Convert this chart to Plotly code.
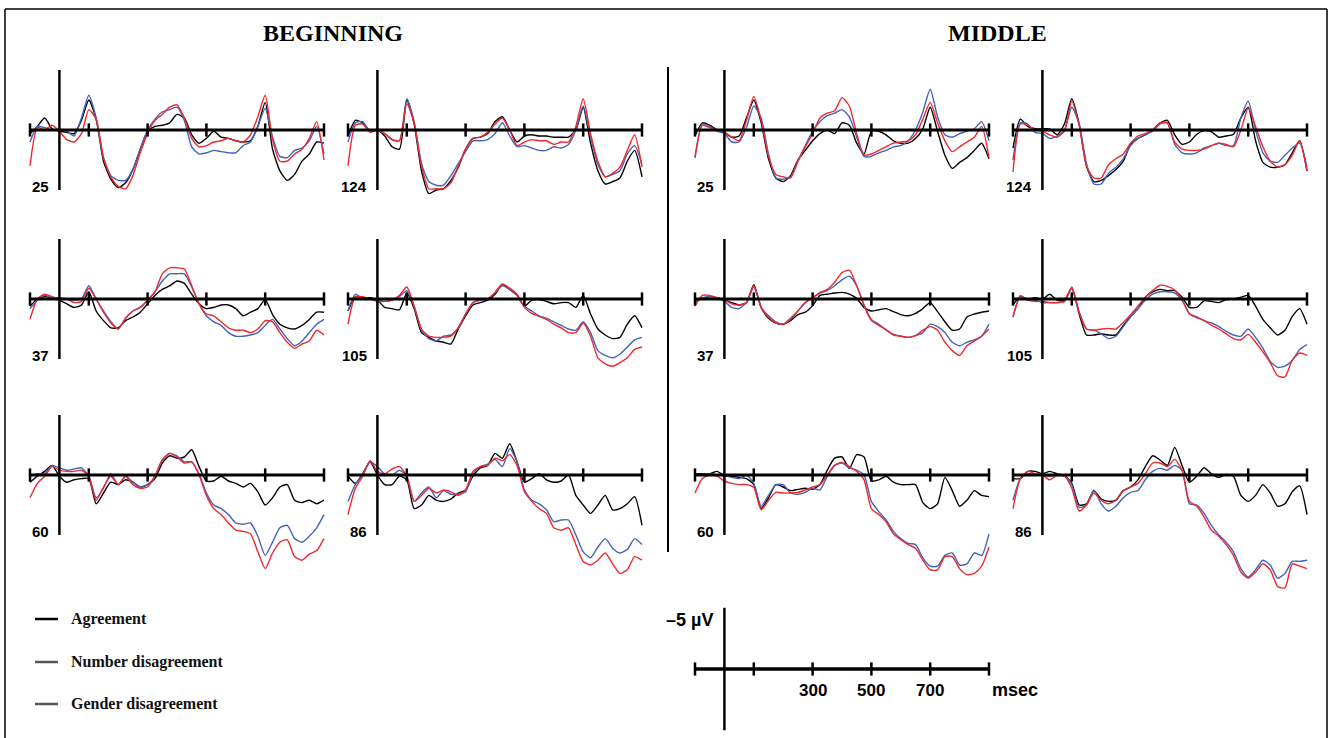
import plotly.graph_objects as go

# ---------------- data ----------------
TIME_MS = [-100, -75, -50, -25, 0, 25, 50, 75, 100, 125, 150, 175, 200, 225, 250, 275,
           300, 325, 350, 375, 400, 425, 450, 475, 500, 525, 550, 575, 600, 625, 650,
           675, 700, 725, 750, 775, 800, 825, 850, 875, 900]
TICK_MS = [-100, 100, 300, 500, 700, 900]
SCALE_LABEL_MS = [300, 500, 700]
SECTIONS = ["BEGINNING", "MIDDLE"]
ELECTRODES = ["25", "124", "37", "105", "60", "86"]
CONDITIONS = ["Agreement", "Number disagreement", "Gender disagreement"]

# values in microvolts (negative plotted upwards)
B25_AGR = [0.3, -0.3, -1.0, -0.1, 0.1, 0.2, 0.3, -0.8, -2.5, -0.9, 2.6, 4.1, 4.8, 4.4, 3.3, 1.6, 0.1, -0.3, -0.4, -0.6, -1.3, -1.0, 0.4, 1.1, 0.7, 0.1, 0.6, 0.7, 0.9, 1.0, 0.9, -0.3, -2.3, 1.6, 3.4, 4.2, 3.7, 2.6, 2.0, 1.0, 1.1]
B25_NUM = [1.0, -0.3, -0.2, 0.0, 0.0, 0.1, 0.5, -1.0, -2.9, -1.0, 2.3, 3.8, 4.2, 4.2, 3.3, 1.6, 0.0, -0.9, -1.5, -1.7, -1.9, -0.8, 1.4, 2.0, 1.9, 1.7, 1.8, 1.9, 1.9, 1.3, 1.0, -0.3, -1.8, 0.6, 2.2, 2.3, 1.7, 1.5, 0.9, -0.3, 2.0]
B25_GEN = [3.0, -0.2, 0.0, -0.4, 0.1, 0.8, 1.0, 0.3, -1.7, -0.9, 2.3, 3.9, 4.7, 4.9, 3.8, 1.9, 0.3, -0.8, -1.3, -1.9, -2.1, -1.0, 0.7, 1.4, 1.3, 1.0, 0.9, 0.7, 0.9, 1.0, 0.4, -1.1, -2.9, 0.8, 2.6, 2.6, 2.0, 1.6, 0.7, -0.7, 2.5]

B124_AGR = [0.5, -0.8, -0.6, 0.1, 0.0, 0.5, 1.4, 1.6, -2.5, -0.5, 3.4, 5.3, 5.0, 4.9, 4.2, 3.1, 1.6, 0.7, 0.6, 0.3, -0.7, -1.1, 0.0, 1.0, 0.5, 0.4, 0.5, 0.5, 0.6, 0.6, 0.6, 0.0, -1.9, 1.1, 3.4, 4.5, 4.3, 4.0, 2.6, 1.7, 3.9]
B124_NUM = [1.0, -0.6, -0.7, 0.1, 0.0, 0.3, 0.8, 0.9, -2.6, -0.7, 2.8, 4.3, 4.6, 4.6, 3.8, 2.8, 1.8, 0.9, 0.9, 0.8, 0.3, -0.6, 0.5, 1.4, 1.3, 1.5, 1.7, 1.7, 1.4, 1.5, 1.2, 0.0, -2.0, 0.6, 2.9, 3.9, 3.7, 3.4, 2.0, 1.3, 2.9]
B124_GEN = [3.0, -0.4, -0.5, 0.2, 0.0, 0.3, 0.8, 0.9, -2.2, -0.6, 3.0, 4.9, 4.9, 4.9, 4.4, 3.0, 1.6, 0.7, 0.6, 0.2, -0.5, -1.0, 0.0, 1.3, 1.0, 0.8, 0.9, 0.9, 1.2, 1.0, 1.0, -0.3, -2.6, 0.3, 2.6, 3.9, 3.6, 3.1, 1.7, 0.4, 3.1]

B37_AGR = [0.6, 0.0, -0.2, -0.1, 0.1, 0.4, 0.7, 0.5, -0.6, 1.0, 1.8, 2.4, 2.4, 1.8, 1.5, 1.1, 0.4, -0.3, -0.8, -1.1, -1.5, -1.3, -0.4, 0.4, 0.8, 0.7, 0.5, 0.5, 0.8, 1.4, 1.1, 0.8, 0.05, 1.3, 2.1, 2.4, 2.5, 2.2, 1.7, 1.1, 1.1]
B37_NUM = [0.8, 0.1, -0.3, -0.1, -0.1, 0.0, 0.1, 0.0, -1.1, 0.0, 1.0, 1.9, 2.5, 1.6, 1.0, 0.7, 0.1, -0.6, -1.5, -2.1, -2.1, -2.1, -1.0, 0.4, 1.4, 1.9, 2.2, 2.8, 3.1, 3.1, 3.0, 2.8, 2.2, 1.7, 2.5, 3.3, 3.9, 3.5, 2.8, 2.1, 1.7]
B37_GEN = [1.7, 0.0, -0.4, -0.2, 0.0, 0.0, 0.3, 0.2, -0.9, 0.0, 1.1, 2.0, 2.5, 1.6, 1.0, 0.7, 0.1, -0.6, -2.1, -2.6, -2.6, -2.5, -1.1, 0.4, 1.25, 1.4, 1.9, 2.4, 2.6, 2.6, 2.8, 2.5, 1.8, 1.9, 2.8, 3.6, 4.1, 3.75, 3.5, 2.6, 3.0]

B105_AGR = [1.0, -0.2, -0.1, -0.1, 0.1, 0.7, 0.8, 0.9, -0.5, 0.8, 2.8, 3.2, 3.5, 3.6, 3.75, 2.5, 1.4, 0.5, 0.3, 0.1, -0.4, -1.2, -0.8, -0.3, 0.6, 0.1, 0.05, 0.2, 0.4, 0.3, 0.3, 0.7, -0.3, 1.25, 2.5, 3.0, 3.3, 3.2, 2.1, 1.4, 2.4]
B105_NUM = [1.0, -0.4, 0.0, 0.0, 0.1, 0.2, 0.1, -0.2, -0.7, 0.6, 2.6, 3.3, 3.5, 3.1, 3.0, 2.4, 1.25, 0.3, 0.1, 0.0, -0.5, -1.1, -0.8, -0.3, 0.6, 1.0, 1.4, 1.6, 1.9, 2.2, 2.5, 2.6, 1.9, 2.8, 4.3, 4.7, 4.9, 4.6, 4.0, 3.4, 3.2]
B105_GEN = [2.1, -0.2, -0.2, 0.0, 0.2, 0.2, 0.1, -0.3, -1.0, 0.6, 2.5, 3.1, 3.2, 3.2, 3.1, 2.4, 1.25, 0.3, 0.05, 0.0, -0.55, -1.25, -0.9, -0.4, 0.7, 1.2, 1.45, 1.7, 2.1, 2.4, 2.8, 2.8, 2.0, 3.1, 4.9, 5.4, 5.6, 5.3, 4.9, 4.2, 4.0]

B60_AGR = [0.6, 0.1, -0.3, -0.8, 0.1, 0.6, 0.4, 0.3, 0.3, 2.4, 1.5, 0.6, 0.8, 0.4, 0.6, 1.0, 0.8, 0.3, -1.0, -1.6, -1.4, -1.5, -2.1, -0.7, 0.5, 0.5, 0.1, 0.5, 0.7, 1.0, 0.7, 1.4, 2.5, 1.9, 1.0, 0.8, 2.1, 2.3, 2.1, 2.4, 2.1]
B60_NUM = [0.1, -0.1, -0.1, -0.8, -0.6, -0.4, -0.5, -0.6, 0.1, 1.9, 1.1, -0.1, 0.8, 0.1, 0.6, 1.0, 0.8, 0.1, -1.25, -1.8, -1.6, -1.1, -1.1, -0.1, 1.5, 2.5, 2.8, 3.3, 4.0, 4.1, 4.0, 5.1, 6.7, 5.6, 4.4, 4.2, 5.3, 5.6, 5.1, 4.4, 3.3]
B60_GEN = [1.9, 0.7, 0.1, -0.7, -0.4, -0.3, -0.3, -0.4, 0.1, 2.1, 1.0, 0.1, 0.8, 0.1, 0.8, 1.1, 1.0, 0.1, -1.25, -1.8, -1.5, -1.0, -1.1, 0.0, 1.7, 2.8, 3.3, 4.0, 4.6, 4.7, 4.9, 6.4, 7.8, 6.5, 5.6, 5.4, 6.8, 7.1, 6.6, 6.3, 5.3]

B86_AGR = [0.1, 0.7, -0.1, -1.1, 0.0, 0.8, 0.8, 0.1, 0.4, 2.8, 2.5, 1.7, 2.1, 2.2, 2.0, 1.5, 1.25, 0.1, -0.6, -0.8, -1.8, -1.4, -2.6, -1.1, 0.6, 0.3, -0.1, 0.4, 0.6, 0.5, 0.0, 1.7, 2.5, 3.2, 2.5, 1.7, 2.9, 2.8, 2.4, 1.8, 4.2]
B86_NUM = [2.2, 0.8, 0.0, -1.1, -0.7, -0.1, 0.0, -0.4, 0.1, 2.2, 1.5, 1.0, 1.9, 1.3, 1.6, 1.6, 1.4, -0.1, -0.7, -0.9, -1.3, -0.7, -2.2, -1.1, 1.25, 2.1, 2.4, 2.9, 3.9, 3.75, 3.75, 5.0, 6.4, 6.9, 6.0, 5.3, 6.1, 6.5, 6.2, 5.3, 5.8]
B86_GEN = [3.3, 1.1, 0.1, -1.2, -0.3, -0.1, -0.5, -0.7, 0.1, 2.2, 1.7, 1.1, 1.5, 1.25, 1.4, 1.7, 1.25, -0.3, -0.7, -0.8, -1.4, -1.2, -1.7, -0.8, 1.4, 2.2, 2.8, 3.2, 4.4, 4.6, 4.4, 5.8, 7.2, 7.5, 7.1, 6.5, 7.4, 8.2, 7.9, 6.8, 7.1]

M25_AGR = [0.5, -0.6, -0.4, 0.0, 0.2, 0.6, 0.5, -1.0, -2.5, -0.6, 2.4, 4.0, 4.3, 3.8, 2.5, 1.7, 0.9, 0.3, 0.0, 0.3, -0.6, -0.4, 1.1, 2.0, 0.1, 0.1, 0.4, 0.9, 1.1, 1.1, 0.7, -0.1, -1.9, 0.1, 2.1, 3.2, 2.7, 2.3, 1.7, 1.1, 2.4]
M25_NUM = [2.3, -0.5, -0.3, 0.1, 0.3, 1.0, 1.0, -0.2, -2.0, -1.0, 2.0, 4.0, 4.1, 3.9, 2.6, 1.3, 0.1, -0.7, -1.2, -1.4, -1.7, -1.1, 0.6, 2.2, 2.2, 1.9, 1.7, 1.4, 1.3, 0.9, 0.0, -1.5, -3.4, -1.1, 0.4, 0.6, 0.3, 0.1, -0.1, -0.7, 0.9]
M25_GEN = [2.3, -0.4, -0.2, 0.0, 0.2, 0.6, 0.9, -0.8, -2.8, -0.8, 2.2, 3.7, 3.9, 4.0, 2.6, 1.4, 0.3, -1.0, -1.4, -1.6, -2.7, -2.0, 0.3, 2.1, 2.0, 1.7, 1.4, 1.1, 1.0, 0.9, 0.4, -0.9, -2.3, -0.6, 0.9, 1.8, 1.4, 1.0, 0.6, -0.3, 2.3]

M124_AGR = [1.5, -0.9, -0.3, -0.1, -0.1, -0.1, 0.4, -0.5, -2.6, -0.5, 3.0, 4.3, 4.2, 3.8, 3.3, 2.6, 1.2, 0.7, 0.4, 0.0, -0.6, -0.8, 0.4, 1.2, 1.0, 0.35, 0.05, 0.15, 0.6, 0.5, 0.35, -1.0, -1.9, 0.9, 2.7, 3.1, 3.1, 2.9, 1.9, 0.9, 3.4]
M124_NUM = [2.5, -0.6, -0.5, 0.2, 0.3, 0.7, 0.5, 0.0, -1.9, -0.5, 2.8, 4.5, 4.5, 3.6, 3.1, 2.4, 1.3, 0.7, 0.4, 0.1, -0.5, -0.6, 1.2, 1.9, 2.0, 1.9, 1.5, 1.3, 1.1, 1.3, 1.3, -1.0, -2.4, 0.0, 1.9, 2.6, 2.7, 2.1, 1.5, 1.1, 3.1]
M124_GEN = [3.5, -0.5, -0.4, 0.0, 0.1, 0.4, 0.6, 0.1, -2.4, -0.4, 3.0, 4.0, 4.0, 2.9, 2.4, 2.0, 1.1, 0.5, 0.3, 0.0, -0.6, -0.6, 1.0, 1.6, 1.7, 1.7, 1.6, 1.3, 1.1, 1.2, 1.4, 0.0, -1.8, -0.3, 1.4, 2.6, 3.1, 2.9, 2.1, 0.9, 3.4]

M37_AGR = [0.1, 0.0, -0.2, -0.1, 0.1, 0.3, 0.5, 0.3, -1.2, 0.7, 1.6, 2.0, 2.1, 1.8, 1.3, 1.1, 0.55, -0.3, -0.4, -0.5, -0.55, -0.4, -0.05, 0.7, 1.0, 0.9, 0.8, 1.05, 1.3, 1.4, 1.2, 0.8, 0.3, 1.05, 1.9, 2.6, 2.5, 1.5, 1.25, 1.1, 1.0]
M37_NUM = [0.3, -0.1, -0.2, -0.1, 0.2, 0.7, 0.8, 0.3, -1.0, 0.7, 1.4, 1.9, 2.1, 1.6, 1.0, 0.3, -0.1, -0.5, -0.7, -1.1, -1.6, -1.9, -1.1, 0.5, 1.7, 2.1, 2.6, 2.95, 3.1, 3.2, 3.05, 2.8, 2.1, 2.3, 2.8, 3.6, 3.9, 3.6, 3.4, 3.1, 2.1]
M37_GEN = [0.6, -0.3, -0.3, -0.1, 0.1, 0.4, 0.5, 0.3, -1.1, 0.7, 1.5, 2.0, 2.1, 1.7, 1.0, 0.3, -0.1, -0.55, -0.8, -1.4, -2.2, -2.4, -1.1, 0.55, 1.8, 2.2, 2.55, 3.0, 3.1, 3.2, 3.05, 2.6, 2.3, 2.6, 3.6, 4.3, 4.7, 3.9, 3.5, 3.1, 2.5]

M105_AGR = [0.5, -0.2, 0.0, -0.1, 0.0, -0.4, 0.1, 0.1, -0.9, 1.25, 3.0, 3.0, 2.9, 3.0, 3.0, 2.2, 1.45, 0.8, -0.15, -0.6, -0.8, -0.7, -0.7, -0.15, 0.7, 0.7, 0.15, 0.2, 0.3, 0.05, 0.0, -0.15, -0.3, 0.6, 1.7, 2.4, 3.0, 2.6, 1.45, 0.8, 2.1]
M105_NUM = [1.5, -0.3, 0.1, 0.1, 0.3, 0.3, 0.3, 0.2, -0.9, 1.1, 2.5, 2.6, 2.9, 3.3, 3.1, 2.3, 1.5, 0.8, 0.1, -0.4, -0.6, -0.6, -0.5, 0.1, 1.2, 1.5, 1.8, 2.0, 2.3, 2.7, 3.0, 3.1, 2.5, 3.2, 4.1, 5.2, 5.7, 5.6, 5.1, 4.2, 3.8]
M105_GEN = [1.5, -0.2, 0.1, 0.2, 0.2, 0.3, 0.3, 0.2, -1.0, 1.1, 2.5, 2.6, 2.5, 2.45, 2.5, 1.95, 1.3, 0.6, -0.15, -0.7, -1.15, -1.05, -0.75, 0.05, 1.25, 1.55, 1.8, 2.2, 2.5, 2.9, 3.3, 3.4, 2.95, 3.6, 4.4, 5.3, 6.4, 6.5, 5.1, 4.5, 4.7]

M60_AGR = [-0.1, -0.1, -0.1, -0.3, 0.05, 0.1, 0.2, 0.3, 0.8, 2.8, 1.9, 0.8, 1.0, 1.3, 1.2, 1.1, 1.2, 0.8, -0.4, -1.4, -1.5, -0.55, -1.7, -1.5, 0.5, 0.4, 0.1, 0.6, 0.8, 0.8, 0.8, 2.3, 2.8, 2.4, 0.2, 1.3, 2.6, 2.1, 1.3, 1.7, 1.8]
M60_NUM = [-0.1, 0.0, -0.1, 0.0, 0.05, 0.2, 0.3, 0.0, 0.7, 2.6, 1.7, 0.8, 0.8, 1.5, 1.6, 1.45, 1.1, 1.25, 0.1, -0.8, -1.0, -0.6, -0.4, 0.0, 2.2, 3.05, 3.75, 4.7, 5.3, 5.7, 5.8, 6.9, 7.6, 7.6, 6.7, 6.5, 7.5, 7.4, 6.5, 6.7, 4.9]
M60_GEN = [1.5, 0.3, 0.0, 0.1, 0.5, 0.7, 0.8, 0.8, 1.05, 2.9, 2.1, 1.45, 1.5, 1.5, 1.45, 1.25, 1.0, 0.8, 0.0, -0.8, -1.05, -0.7, -0.3, 0.4, 2.8, 3.3, 3.9, 4.9, 5.4, 5.8, 6.1, 7.1, 7.9, 7.9, 6.8, 6.8, 7.8, 8.3, 8.2, 7.6, 6.0]

M86_AGR = [0.3, 0.3, -0.3, -0.3, -0.1, -0.3, -0.1, 0.05, 0.7, 2.5, 2.4, 1.3, 2.0, 2.2, 2.1, 1.3, 1.0, 0.4, -0.7, -1.6, -1.25, -0.8, -2.3, -0.8, 0.6, 0.1, -0.6, -0.1, 0.2, -0.05, 0.1, 1.7, 2.2, 1.7, 0.8, 1.5, 2.6, 2.4, 1.4, 0.9, 3.3]
M86_NUM = [2.1, 0.3, -0.1, -0.05, 0.0, 0.1, 0.0, 0.05, 0.8, 2.7, 2.5, 1.25, 2.4, 3.0, 2.6, 1.9, 1.45, 1.3, 0.4, -0.3, -0.55, -0.4, -0.8, -0.4, 2.4, 2.5, 3.2, 4.2, 5.0, 5.6, 6.4, 7.8, 8.5, 7.9, 7.1, 7.5, 8.6, 8.2, 7.2, 7.2, 7.1]
M86_GEN = [2.8, 0.3, -0.3, -0.1, 0.0, 0.4, 0.05, 0.1, 1.1, 3.0, 2.5, 1.5, 2.1, 2.4, 2.1, 1.3, 1.0, 0.7, -0.1, -1.0, -1.0, -0.7, -1.3, -0.4, 2.2, 2.6, 3.5, 4.6, 5.1, 5.8, 6.7, 8.1, 8.6, 8.1, 7.4, 7.9, 9.3, 9.4, 7.4, 7.6, 7.8]

PANELS = {
    ("BEGINNING", "25"): (B25_AGR, B25_NUM, B25_GEN),
    ("BEGINNING", "124"): (B124_AGR, B124_NUM, B124_GEN),
    ("BEGINNING", "37"): (B37_AGR, B37_NUM, B37_GEN),
    ("BEGINNING", "105"): (B105_AGR, B105_NUM, B105_GEN),
    ("BEGINNING", "60"): (B60_AGR, B60_NUM, B60_GEN),
    ("BEGINNING", "86"): (B86_AGR, B86_NUM, B86_GEN),
    ("MIDDLE", "25"): (M25_AGR, M25_NUM, M25_GEN),
    ("MIDDLE", "124"): (M124_AGR, M124_NUM, M124_GEN),
    ("MIDDLE", "37"): (M37_AGR, M37_NUM, M37_GEN),
    ("MIDDLE", "105"): (M105_AGR, M105_NUM, M105_GEN),
    ("MIDDLE", "60"): (M60_AGR, M60_NUM, M60_GEN),
    ("MIDDLE", "86"): (M86_AGR, M86_NUM, M86_GEN),
}
for k, v in PANELS.items():
    for s in v:
        assert len(s) == len(TIME_MS), (k, len(s))

# ---------------- styling / layout ----------------
W, H = 1330, 738
PX_PER_MS = 0.294
PX_PER_UV = 12.0
X_RANGE = [-110, 910]
Y_RANGE = [-6.5, 11.0]
COLORS = ["#000000", "#4463b8", "#f0282d"]
SECTION_COL_PX = {"BEGINNING": [30, 348], "MIDDLE": [695, 1013]}
ROW_ZERO_PX = [130, 299, 475]
SANS = "Liberation Sans, Arial, sans-serif"
SERIF = "Liberation Serif, Times New Roman, serif"


def xdom(left_px, xr):
    a = left_px + (xr[0] + 100) * PX_PER_MS
    b = left_px + (xr[1] + 100) * PX_PER_MS
    return [a / W, b / W]


def ydom(zero_px, yr):
    top = zero_px + yr[0] * PX_PER_UV
    bot = zero_px + yr[1] * PX_PER_UV
    return [1 - bot / H, 1 - top / H]


fig = go.Figure()
shapes = []
annotations = []
layout_axes = {}


def axis_names(i):
    xa = "x" if i == 1 else f"x{i}"
    ya = "y" if i == 1 else f"y{i}"
    xk = "xaxis" if i == 1 else f"xaxis{i}"
    yk = "yaxis" if i == 1 else f"yaxis{i}"
    return xa, ya, xk, yk


def add_axes_lines(xa, ya, vert_half):
    shapes.append(dict(type="line", xref=xa, yref=ya, x0=TICK_MS[0], x1=TICK_MS[-1], y0=0, y1=0,
                       line=dict(color="black", width=3), layer="above"))
    shapes.append(dict(type="line", xref=xa, yref=ya, x0=0, x1=0, y0=-vert_half, y1=vert_half,
                       line=dict(color="black", width=2.5), layer="above"))
    for t in TICK_MS:
        shapes.append(dict(type="line", xref=xa, yref=ya, x0=t, x1=t, y0=-0.55, y1=0.55,
                           line=dict(color="black", width=2.5), layer="above"))


idx = 0
for sec in SECTIONS:
    for e_i, el in enumerate(ELECTRODES):
        idx += 1
        row, col = divmod(e_i, 2)
        left = SECTION_COL_PX[sec][col]
        zero = ROW_ZERO_PX[row]
        xa, ya, xk, yk = axis_names(idx)
        layout_axes[xk] = dict(domain=xdom(left, X_RANGE), range=X_RANGE, visible=False,
                               fixedrange=True, anchor=ya)
        layout_axes[yk] = dict(domain=ydom(zero, Y_RANGE), range=[Y_RANGE[1], Y_RANGE[0]],
                               visible=False, fixedrange=True, anchor=xa)
        series = PANELS[(sec, el)]
        for cond, vals, colr in zip(CONDITIONS, series, COLORS):
            fig.add_trace(go.Scatter(x=TIME_MS, y=vals, mode="lines", name=cond,
                                     line=dict(color=colr, width=1.4, shape="spline", smoothing=0.6),
                                     xaxis=xa, yaxis=ya, showlegend=False, hoverinfo="skip"))
        add_axes_lines(xa, ya, 5.0)
        annotations.append(dict(text=f"<b>{el}</b>", xref=xa, yref=ya, x=-30, y=4.7,
                                xanchor="right", yanchor="middle", showarrow=False,
                                font=dict(family=SANS, size=15, color="black")))

# scale bar subplot
idx += 1
xa, ya, xk, yk = axis_names(idx)
SB_Y = [-6.0, 5.5]
layout_axes[xk] = dict(domain=xdom(695, X_RANGE), range=X_RANGE, visible=False, fixedrange=True, anchor=ya)
layout_axes[yk] = dict(domain=ydom(669, SB_Y), range=[SB_Y[1], SB_Y[0]], visible=False,
                       fixedrange=True, anchor=xa)
fig.add_trace(go.Scatter(x=[TICK_MS[0], TICK_MS[-1]], y=[0, 0], mode="lines",
                         line=dict(color="black", width=3), xaxis=xa, yaxis=ya,
                         showlegend=False, hoverinfo="skip"))
add_axes_lines(xa, ya, 5.1)
for t in SCALE_LABEL_MS:
    annotations.append(dict(text=f"<b>{t}</b>", xref=xa, yref=ya, x=t, y=1.75, xanchor="center",
                            yanchor="middle", showarrow=False, font=dict(family=SANS, size=17, color="black")))
annotations.append(dict(text="<b>msec</b>", xref=xa, yref=ya, x=903, y=1.75, xanchor="left",
                        yanchor="middle", showarrow=False, font=dict(family=SANS, size=18, color="black")))
annotations.append(dict(text="<b>\u20135 \u00b5V</b>", xref=xa, yref=ya, x=-32, y=-4.1, xanchor="right",
                        yanchor="middle", showarrow=False, font=dict(family=SANS, size=18, color="black")))

# titles
for sec, cx in zip(SECTIONS, [333, 997]):
    annotations.append(dict(text=f"<b>{sec}</b>", xref="paper", yref="paper", x=cx / W, y=1 - 33 / H,
                            xanchor="center", yanchor="middle", showarrow=False,
                            font=dict(family=SERIF, size=24, color="black")))

# legend (drawn manually)
LEG_Y = [619, 662, 704]
LEG_COLORS = ["#000000", "#555555", "#555555"]
for cond, ly, lc in zip(CONDITIONS, LEG_Y, LEG_COLORS):
    shapes.append(dict(type="line", xref="paper", yref="paper", x0=35 / W, x1=58 / W,
                       y0=1 - ly / H, y1=1 - ly / H, line=dict(color=lc, width=2.5)))
    annotations.append(dict(text=f"<b>{cond}</b>", xref="paper", yref="paper", x=69 / W, y=1 - ly / H,
                            xanchor="left", yanchor="middle", showarrow=False,
                            font=dict(family=SERIF, size=16, color="#111111")))

# divider and frame
shapes.append(dict(type="line", xref="paper", yref="paper", x0=668 / W, x1=668 / W,
                   y0=1 - 67 / H, y1=1 - 552 / H, line=dict(color="black", width=2)))
for (x0, y0, x1, y1) in [(5, 9, 5, 740), (5, 9, 1327, 9), (1327, 9, 1327, 740)]:
    shapes.append(dict(type="line", xref="paper", yref="paper", x0=x0 / W, x1=x1 / W,
                       y0=1 - y0 / H, y1=1 - y1 / H, line=dict(color="black", width=1.5)))

fig.update_layout(width=W, height=H, margin=dict(l=0, r=0, t=0, b=0, pad=0),
                  paper_bgcolor="white", plot_bgcolor="rgba(0,0,0,0)",
                  showlegend=False, hovermode=False, shapes=shapes, annotations=annotations,
                  **layout_axes)

fig.write_html("out.html", config={"displayModeBar": False},
               post_script="document.body.style.margin='0';document.body.style.padding='0';"
                           "document.body.style.overflow='hidden';")
